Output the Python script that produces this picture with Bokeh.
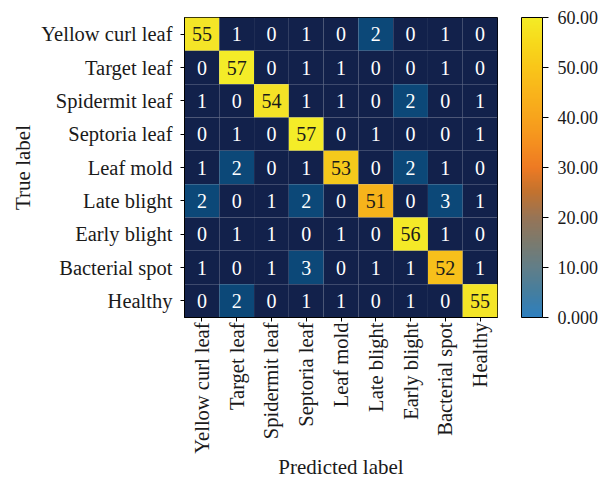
import math
from bokeh.plotting import figure
from bokeh.models import ColumnDataSource, LinearColorMapper, ColorBar, FixedTicker
from bokeh.core.properties import value
from bokeh.embed import file_html
from bokeh.resources import INLINE

classes = ["Yellow curl leaf", "Target leaf", "Spidermit leaf", "Septoria leaf",
           "Leaf mold", "Late blight", "Early blight", "Bacterial spot", "Healthy"]

row_yellow_curl = [55, 1, 0, 1, 0, 2, 0, 1, 0]
row_target = [0, 57, 0, 1, 1, 0, 0, 1, 0]
row_spidermit = [1, 0, 54, 1, 1, 0, 2, 0, 1]
row_septoria = [0, 1, 0, 57, 0, 1, 0, 0, 1]
row_leaf_mold = [1, 2, 0, 1, 53, 0, 2, 1, 0]
row_late_blight = [2, 0, 1, 2, 0, 51, 0, 3, 1]
row_early_blight = [0, 1, 1, 0, 1, 0, 56, 1, 0]
row_bacterial = [1, 0, 1, 3, 0, 1, 1, 52, 1]
row_healthy = [0, 2, 0, 1, 1, 0, 1, 0, 55]
rows = [row_yellow_curl, row_target, row_spidermit, row_septoria, row_leaf_mold,
        row_late_blight, row_early_blight, row_bacterial, row_healthy]

cbar_ticks = [0, 10, 20, 30, 40, 50, 60]
cbar_labels = ["0.000", "10.00", "20.00", "30.00", "40.00", "50.00", "60.00"]

FONT = "Liberation Serif"


def hex2rgb(h):
    h = h.lstrip("#")
    return [int(h[i:i + 2], 16) for i in (0, 2, 4)]


def interp(stops, v):
    keys = sorted(stops)
    if v <= keys[0]:
        return stops[keys[0]]
    if v >= keys[-1]:
        return stops[keys[-1]]
    for a, b in zip(keys[:-1], keys[1:]):
        if a <= v <= b:
            t = (v - a) / (b - a)
            ca, cb = hex2rgb(stops[a]), hex2rgb(stops[b])
            c = [round(ca[i] + (cb[i] - ca[i]) * t) for i in range(3)]
            return "#%02x%02x%02x" % tuple(c)


bar_stops = {0: "#2e7fbf", 5: "#457e9f", 10: "#627e88", 15: "#7b7a6e", 20: "#977456",
             25: "#c1722f", 30: "#ee7a23", 35: "#f5901f", 40: "#f7a41c", 45: "#f9b41b",
             50: "#f9c619", 55: "#f7d91b", 60: "#f4ec26"}
palette = [interp(bar_stops, 60 * i / 255) for i in range(256)]

cell_stops = {0: "#12214b", 1: "#12214b", 2: "#0c4878", 3: "#0c4878",
              51: "#f6b31b", 52: "#f7c01b", 53: "#f5c91c", 54: "#f4e226", 57: "#f4ec28"}

xs, ys, vals, fills, tcols, texts = [], [], [], [], [], []
for i, r in enumerate(rows):
    for j, v in enumerate(r):
        xs.append(classes[j])
        ys.append(classes[i])
        vals.append(v)
        fills.append(interp(cell_stops, v))
        tcols.append("#1a1a1a" if v > 30 else "white")
        texts.append(str(v))

src = ColumnDataSource(dict(x=xs, y=ys, v=vals, fill=fills, tcol=tcols, text=texts))

p = figure(width=603, height=481, x_range=classes, y_range=list(reversed(classes)),
           output_backend="svg", toolbar_location=None,
           min_border_left=184, min_border_top=17, min_border_right=106, min_border_bottom=164)

p.rect(x="x", y="y", width=1, height=1, source=src, fill_color="fill", line_color=None)
p.text(x="x", y="y", text="text", source=src, text_color="tcol", text_align="center",
       text_baseline="middle", text_font=value(FONT), text_font_size="20px")

p.xgrid.grid_line_color = None
p.ygrid.grid_line_color = None
p.outline_line_color = "black"
p.outline_line_width = 1
p.background_fill_color = "white"

for ax in (p.xaxis, p.yaxis):
    ax.major_tick_out = 4
    ax.major_tick_in = 0
    ax.major_tick_line_color = "black"
    ax.axis_line_color = "black"
    ax.major_label_text_font = FONT
    ax.major_label_text_font_size = "20.5px"
    ax.major_label_text_color = "#1a1a1a"
    ax.axis_label_text_font = FONT
    ax.axis_label_text_font_size = "21px"
    ax.axis_label_text_font_style = "normal"
    ax.axis_label_text_color = "#1a1a1a"
    ax.minor_tick_line_color = None

p.xaxis.axis_label = "Predicted label"
p.yaxis.axis_label = "True label"
p.xaxis.major_label_orientation = math.pi / 2
p.xaxis.major_label_standoff = 1
p.yaxis.major_label_standoff = 8
p.xaxis.axis_label_standoff = -2
p.yaxis.axis_label_standoff = 3

mapper = LinearColorMapper(palette=palette, low=0, high=60)
cb = ColorBar(color_mapper=mapper, ticker=FixedTicker(ticks=cbar_ticks),
              major_label_overrides={t: l for t, l in zip(cbar_ticks, cbar_labels)},
              width=21, height=300, padding=0, margin=0, location=(24, 0),
              bar_line_color="black", major_tick_line_color="black",
              major_tick_out=6, major_tick_in=0, label_standoff=9,
              major_label_text_font=FONT, major_label_text_font_size="18px",
              major_label_text_color="#1a1a1a",
              border_line_color=None, background_fill_alpha=0)
p.add_layout(cb, "right")

open("out.html", "w").write(file_html(p, INLINE))
